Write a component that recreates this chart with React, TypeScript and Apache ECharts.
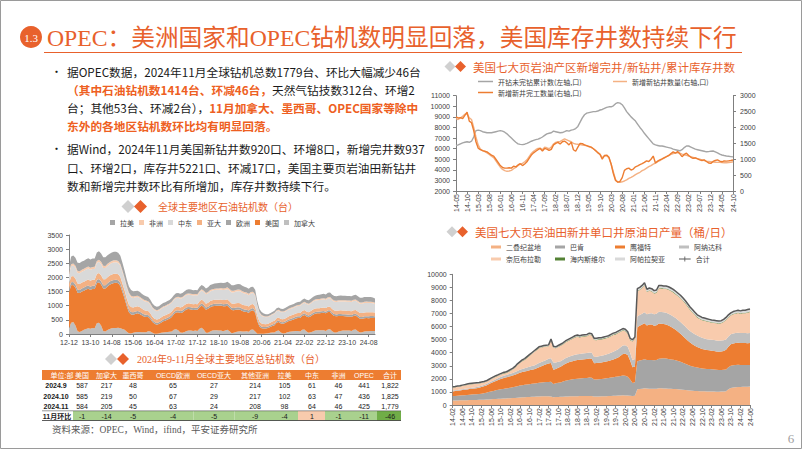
import React, { useEffect, useRef } from "react";
import * as echarts from "echarts";

const FONT = "'Noto Sans CJK SC', 'Noto Sans', sans-serif";
const SERIF = "'Liberation Serif', 'Noto Sans CJK SC', serif";
const NUM = "'Liberation Sans', 'Noto Sans CJK SC', sans-serif";

function monthLabels(y0: number, m0: number, n: number): string[] {
  const out: string[] = [];
  for (let i = 0; i < n; i++) {
    const t = y0 * 12 + (m0 - 1) + i;
    const y = Math.floor(t / 12) % 100;
    const m = (t % 12) + 1;
    out.push(String(y).padStart(2, "0") + "-" + String(m).padStart(2, "0"));
  }
  return out;
}

// ---------- Left chart: 全球主要地区石油钻机数 (2012-12 .. 2024-11) ----------
const rigCats = monthLabels(2012, 12, 144);
const rigCanada = [200,
  400,420,300,100,70,110,150,180,200,190,210,200,
  380,400,300,110,90,140,180,200,210,210,220,200,
  180,150,80,30,20,40,60,70,70,60,60,60,
  100,90,40,10,10,20,40,50,60,70,80,90,
  150,170,130,50,40,70,110,120,120,110,120,110,
  190,220,150,40,40,90,120,130,130,120,120,100,
  120,150,100,30,40,70,90,100,90,90,100,80,
  150,160,90,10,5,5,10,15,30,40,50,50,
  110,120,50,20,30,60,80,90,100,110,110,90,
  150,160,90,40,60,90,120,130,130,130,130,110,
  160,170,100,50,50,90,110,120,120,120,120,110,
  150,160,100,50,60,90,100,100,105,110,110];
const rigUS = [1280,
  1320,1310,1340,1360,1380,1390,1380,1390,1400,1370,1380,1390,
  1410,1430,1450,1500,1520,1540,1560,1580,1590,1600,1570,1500,
  1300,1100,900,740,670,640,650,660,640,600,560,540,
  500,440,380,350,320,330,360,400,410,440,460,510,
  550,590,640,690,720,750,765,765,750,740,740,745,
  760,790,800,820,850,860,860,860,865,875,885,880,
  860,850,830,820,800,790,780,760,720,700,680,670,
  670,680,660,440,260,200,185,180,180,205,230,260,
  290,305,320,340,355,370,385,400,415,440,460,480,
  490,510,530,550,570,590,600,600,600,610,625,620,
  615,605,590,590,575,550,530,515,510,500,500,500,
  490,490,495,490,480,470,462,460,462,460,455];
const rigEurope = [105,
  108,110,112,110,108,110,112,115,113,110,112,114,
  115,116,114,112,110,112,114,115,113,112,110,108,
  104,100,97,95,92,90,88,86,84,82,80,78,
  72,68,64,60,60,62,63,64,65,66,67,68,
  68,69,70,70,71,72,70,71,72,70,70,70,
  72,73,74,75,75,76,75,76,77,76,75,76,
  78,79,80,80,81,80,80,81,80,79,78,77,
  76,75,74,68,60,55,54,53,54,55,56,55,
  54,55,55,56,55,55,56,57,58,58,59,60,
  60,60,61,60,61,62,60,61,62,61,60,60,
  61,62,63,64,64,65,65,65,66,65,64,65,
  65,66,66,65,64,65,66,65,65,67,63];
const rigAsiaPac = [200,
  205,208,210,212,210,208,206,210,212,214,212,210,
  212,214,215,216,212,210,210,212,214,212,210,205,
  195,185,178,172,170,170,168,166,162,158,152,148,
  140,134,128,122,120,120,122,124,125,126,128,128,
  128,129,130,131,130,130,128,129,130,131,130,130,
  132,134,135,136,138,140,140,141,142,140,141,142,
  144,146,148,150,150,151,150,150,148,147,146,145,
  144,142,140,128,115,110,105,100,100,102,104,105,
  106,107,108,109,110,110,111,112,112,113,114,115,
  115,116,117,118,119,120,120,121,122,123,124,125,
  126,127,128,129,130,130,131,132,132,131,132,133,
  134,135,136,137,138,139,140,140,138,135,130];
const rigMidEast = [330,
  370,375,380,378,382,385,384,386,388,385,384,386,
  390,392,395,398,400,402,400,401,403,400,398,396,
  392,385,375,365,350,335,330,325,320,318,315,312,
  310,306,302,300,298,298,300,302,302,304,305,306,
  306,307,308,309,308,310,309,310,311,310,310,310,
  315,320,325,330,335,340,342,345,347,350,352,355,
  360,370,380,390,400,410,415,420,420,415,410,400,
  395,390,385,340,300,270,255,245,240,238,240,242,
  240,238,240,240,240,242,244,245,246,247,248,250,
  250,255,260,265,270,275,280,283,285,287,289,290,
  295,300,305,308,310,312,315,316,318,320,320,322,
  325,327,328,329,330,331,332,330,325,315,300];
const rigAfrica = [65,
  66,68,70,70,71,72,72,70,71,72,73,74,
  74,75,76,75,75,76,75,75,74,73,72,70,
  66,62,58,55,52,50,48,46,45,44,43,42,
  40,38,36,35,34,34,35,36,36,37,37,38,
  38,38,39,39,40,40,40,40,41,40,40,40,
  42,43,44,45,46,48,48,49,50,50,51,52,
  53,54,55,55,55,55,56,55,54,53,52,51,
  50,50,48,40,32,30,28,26,25,25,26,27,
  28,28,29,30,30,30,31,32,32,33,34,35,
  35,35,36,36,37,38,38,39,39,40,40,40,
  41,42,43,44,44,45,45,45,46,45,45,45,
  45,46,46,46,45,45,46,45,46,47,46];
const rigLatAm = [200,
  270,280,285,288,290,292,290,292,294,296,295,294,
  296,298,300,300,302,302,300,301,300,298,295,290,
  270,250,235,220,205,190,180,175,170,165,160,155,
  145,138,130,125,122,120,120,122,124,126,128,130,
  132,134,136,138,140,142,143,144,145,145,146,145,
  150,155,160,165,170,175,178,182,186,190,192,194,
  196,198,198,197,196,195,195,193,190,186,182,178,
  175,172,168,140,115,110,90,75,70,72,75,80,
  85,88,90,92,95,95,98,100,102,105,108,112,
  115,118,120,125,130,135,138,142,146,150,152,155,
  158,160,162,162,163,162,161,160,160,160,159,158,
  160,161,162,163,164,165,166,166,164,160,150];

// ---------- Top right: 新增完井/新钻井/累计库存井数 (2014-05 .. 2024-10) ----------
const wellCats = monthLabels(2014, 5, 126);
const ducCount = [
  6300,6350,6450,6550,6600,6650,6600,6700,7100,7700,
  7750,7700,7600,7550,7500,7500,7500,7550,7600,7650,
  7700,7650,7550,7400,7200,7000,6800,6600,6450,6400,
  6380,6420,6500,6600,6700,6780,6850,6900,6980,7100,
  7250,7400,7450,7500,7650,7600,7550,7500,7520,7600,
  7700,7650,7750,7800,7900,8100,8500,8900,9200,9350,
  9400,9450,9500,9500,9550,9650,9700,9800,9900,9950,
  9950,10050,10250,10350,10300,10150,9850,9500,9250,9000,
  8800,8600,8300,8000,7750,7450,7200,6950,6700,6450,
  6350,6300,6250,6250,6200,6150,6100,6050,5950,5900,
  5850,5800,5900,6100,6250,6250,6150,6050,5950,5900,
  5850,5800,5750,5700,5720,5760,5780,5700,5600,5480,
  5400,5350,5310,5280,5250,5220];
const newDrilled = [
  2280,2250,2300,2350,2420,2430,2300,2250,2000,1700,
  1450,1320,1270,1240,1200,1150,1100,1050,950,850,
  750,680,640,620,630,650,700,740,800,850,
  870,920,980,1080,1180,1250,1300,1340,1350,1300,
  1380,1360,1330,1380,1480,1530,1550,1560,1600,1640,
  1610,1580,1550,1500,1480,1470,1460,1450,1440,1420,
  1400,1370,1330,1280,1220,1160,1050,1100,1110,1050,
  850,600,360,280,270,290,315,350,395,430,
  470,515,555,590,640,675,720,765,800,845,
  880,925,955,1000,1035,1085,1115,1150,1180,1200,
  1210,1190,1160,1140,1120,1100,1080,1060,1040,1020,
  1000,980,960,940,930,920,910,905,900,900,
  895,890,890,895,900,920];
const newCompleted = [
  2330,2300,2310,2280,2380,2480,2200,2150,1900,1550,
  1350,1300,1270,1250,1230,1180,1130,1100,1000,900,
  800,740,720,720,730,720,780,760,820,860,
  800,850,920,1030,1130,1200,1250,1300,1340,1260,
  1340,1320,1280,1310,1450,1500,1530,1480,1550,1570,
  1520,1450,1540,1300,1250,1380,1500,1490,1450,1430,
  1400,1380,1330,1270,1200,1150,1000,1120,1130,1060,
  850,550,330,280,300,420,650,700,720,660,
  690,760,790,830,860,900,950,930,1000,1100,
  880,940,980,1010,1050,1080,1120,1180,1230,1190,
  1240,1170,1080,1150,1190,1120,1060,1030,1040,1010,
  980,960,980,930,880,870,930,960,980,940,
  920,950,940,950,960,975];

// ---------- Bottom right: 新井单口井原油日产量 (2014-02 .. 2024-06) ----------
const prodCats = monthLabels(2014, 2, 125);
const prodPermian = [
  340,345,350,355,360,365,370,375,380,385,390,
  395,400,410,420,430,440,450,460,470,480,490,500,
  510,520,530,545,560,575,590,600,610,620,630,640,
  650,655,660,665,670,660,650,600,610,620,630,640,
  650,655,660,665,670,675,680,685,690,690,695,690,
  650,650,655,660,665,670,680,690,700,710,720,730,
  740,730,720,700,680,700,1200,1230,1250,1280,1260,1250,
  1250,1240,1250,1280,1280,1270,1260,1250,1240,1230,1220,1200,
  1180,1160,1140,1120,1100,1090,1080,1070,1060,1050,1050,1040,
  1040,1030,1030,1020,1020,1030,1040,1060,1200,1300,1340,1360,
  1380,1380,1390,1400,1400,1410];
const prodBakken = [
  340,350,360,370,380,390,400,410,420,430,440,
  450,470,490,520,560,600,630,660,690,720,740,760,
  780,800,820,850,880,910,930,950,960,970,990,1000,
  1020,1040,1060,1080,1090,1100,1120,1000,1050,1080,1100,1150,
  1200,1240,1280,1300,1320,1340,1350,1360,1370,1380,1400,1390,
  1300,1310,1320,1330,1350,1370,1390,1410,1430,1450,1470,1490,
  1520,1500,1450,1250,1000,1050,2150,2180,2200,2220,2180,2200,
  2200,2180,2200,2260,2280,2300,2290,2270,2250,2230,2200,2160,
  2120,2070,2020,1960,1900,1850,1820,1790,1770,1750,1730,1720,
  1710,1700,1690,1680,1660,1650,1650,1660,1680,1700,1700,1700,
  1700,1690,1680,1670,1660,1660];
const prodEagleFord = [
  360,370,380,390,400,410,420,430,440,450,460,
  480,500,530,560,600,640,680,720,760,790,820,840,
  860,880,900,920,950,980,1000,1020,1040,1060,1080,1100,
  1150,1200,1250,1300,1350,1420,1450,1100,1100,1150,1200,1250,
  1300,1330,1360,1390,1410,1420,1430,1440,1440,1450,1460,1450,
  1250,1250,1260,1270,1280,1290,1300,1320,1350,1400,1450,1550,
  1650,1700,1650,1450,1200,1200,2600,2650,2700,2750,2650,2700,
  2700,2650,2650,2700,2650,2620,2600,2560,2500,2420,2340,2250,
  2150,2050,1950,1850,1780,1700,1640,1580,1530,1490,1460,1440,
  1430,1420,1410,1400,1400,1420,1450,1500,1580,1650,1670,1680,
  1680,1680,1670,1670,1670,1670];
const prodAnadarko = [
  60,60,65,65,70,70,75,75,80,80,85,
  90,95,100,105,110,115,120,130,140,150,160,170,
  180,190,200,210,220,230,240,250,260,270,280,290,
  300,310,320,330,340,350,360,550,500,450,420,420,
  420,430,430,440,440,445,450,450,455,460,465,470,
  480,490,500,510,520,530,550,570,590,610,630,640,
  650,650,640,600,550,560,820,830,840,850,850,860,
  870,880,890,900,900,900,900,900,900,900,900,900,
  900,900,900,890,890,890,880,870,860,850,850,840,
  840,840,840,840,840,830,820,800,780,770,760,760,
  760,760,760,760,760,760];
const prodNiobrara = [
  245,240,237,242,249,264,271,286,274,268,256,
  236,223,198,170,175,177,192,199,179,176,186,163,
  183,220,260,332,447,509,594,631,731,828,918,1016,
  1076,1138,1103,1065,1020,957,1357,1135,1074,1132,1182,1169,
  1209,1222,1247,1279,1334,1342,1261,1284,1294,1286,1346,1314,
  1284,1261,1276,1239,1243,1246,1236,1263,1283,1231,1230,1188,
  1138,1068,991,955,1432,1552,1935,1909,1954,2038,1698,1723,
  1663,1581,1587,1784,1812,1780,1818,1837,1825,1833,1804,1804,
  1814,1787,1759,1701,1604,1546,1458,1371,1363,1345,1348,1350,
  1322,1304,1307,1309,1301,1324,1394,1482,1460,1425,1470,1485,
  1510,1465,1520,1520,1575,1610];
const prodHaynesville = [
  15,15,16,16,17,17,18,18,18,19,19,
  19,20,20,21,21,22,22,23,23,24,24,25,
  25,26,26,27,27,28,28,29,29,30,30,30,
  30,31,31,32,32,33,33,33,34,34,34,35,
  35,35,35,36,36,36,37,37,37,38,38,38,
  38,39,39,39,40,40,40,41,41,41,42,42,
  42,42,41,40,38,38,45,46,46,47,47,47,
  47,47,48,48,48,48,48,47,47,47,46,46,
  46,45,45,45,44,44,44,43,43,43,42,42,
  42,42,41,41,41,40,40,40,40,40,40,40,
  40,40,40,40,40,40];
const prodAppalachia = [
  40,40,42,42,44,44,46,46,48,48,50,
  50,52,52,54,54,56,56,58,58,60,60,62,
  62,64,64,66,66,68,68,70,70,72,72,74,
  74,76,76,78,78,80,80,82,82,84,84,86,
  86,88,88,90,90,92,92,94,94,96,96,98,
  98,100,100,102,102,104,104,106,106,108,108,110,
  110,110,108,105,100,100,150,155,160,165,165,170,
  170,172,175,178,180,182,184,186,188,190,190,190,
  190,188,186,184,182,180,178,176,174,172,170,168,
  166,164,162,160,158,156,156,158,160,165,170,175,
  180,185,190,190,195,200];

// ---------- Table ----------
const tableHeader = ["单位:部","美国","加拿大","墨西哥","OECD欧洲","OECD亚大","其他亚洲","拉美","中东","非洲","OPEC","合计"];
const tableRowLabels = ["2024.9","2024.10","2024.11"];
const rows2024 = [
  [587,217,48,65,27,214,105,61,46,441,1822],
  [585,219,50,67,29,217,102,63,47,436,1825],
  [584,205,45,63,24,208,98,64,46,425,1779],
];
const momLabel = "11月环比";
const momChange = [-1,-14,-5,-4,-5,-9,-4,1,-1,-11,-46];

const C_ORANGE = "#ED7D31";
const C_LORANGE = "#F4B183";
const C_PEACH = "#F8CBAD";
const C_GRAY = "#A5A5A5";
const C_LGRAY = "#BFBFBF";
const C_VLGRAY = "#D9D9D9";
const C_GREEN = "#548235";
const T_ORANGE = "#E8612C";
const AX = "#7F7F7F";
const LAB = "#404040";

function fmt(n: number): string {
  return n.toLocaleString("en-US");
}

function buildOption(): any {
  const els: any[] = [];
  const text = (x: number, y: number, t: string, o: any = {}) => {
    els.push({
      type: "text", x, y, silent: true,
      style: {
        text: t, fill: o.fill ?? "#1a1a1a", fontSize: o.size ?? 11,
        fontFamily: o.family ?? FONT, fontWeight: o.weight ?? "normal",
        textAlign: o.align ?? "left", textVerticalAlign: "middle", rich: o.rich,
      },
    });
  };
  const diamond = (cx: number, cy: number, r: number, color: string) => {
    els.push({ type: "polygon", silent: true, shape: { points: [[cx, cy - r], [cx + r, cy], [cx, cy + r], [cx - r, cy]] }, style: { fill: color } });
  };
  const rect = (x: number, y: number, w: number, h: number, fill: string) => {
    els.push({ type: "rect", silent: true, shape: { x, y, width: w, height: h }, style: { fill } });
  };

  // frame
  els.push({ type: "rect", silent: true, shape: { x: 0.5, y: 0.5, width: 801, height: 448 }, style: { fill: "none", stroke: "#9a9a9a", lineWidth: 1 } });

  // main title
  els.push({ type: "circle", silent: true, shape: { cx: 31, cy: 37, r: 11 }, style: { fill: T_ORANGE } });
  text(31, 37.5, "1.3", { fill: "#fff", size: 11, align: "center", family: SERIF });
  text(47, 38, "OPEC：美洲国家和OPEC钻机数明显回落，美国库存井数持续下行", { fill: T_ORANGE, size: 23.7, family: SERIF });
  els.push({ type: "line", silent: true, shape: { x1: 44, y1: 52.5, x2: 742, y2: 52.5 }, style: { stroke: T_ORANGE, lineWidth: 1.2 } });

  // bullets
  const BS = 11.7;
  const rich = {
    o: { fill: "#EE5F22", fontWeight: "bold", fontSize: BS, fontFamily: FONT },
    k: { fill: "#1a1a1a", fontSize: BS, fontFamily: FONT },
  };
  text(51, 71, "•", { size: 11 });
  text(67, 71, "据OPEC数据，2024年11月全球钻机总数1779台、环比大幅减少46台", { size: BS });
  text(67, 89, "{o|（其中石油钻机数1414台、环减46台，}{k|天然气钻技数312台、环增2}", { size: BS, rich });
  text(67, 107, "{k|台；其他53台、环减2台），}{o|11月加拿大、墨西哥、OPEC国家等除中}", { size: BS, rich });
  text(67, 125, "{o|东外的各地区钻机数环比均有明显回落。}", { size: BS, rich });
  text(51, 148, "•", { size: 11 });
  text(67, 148, "据Wind，2024年11月美国新钻井数920口、环增8口，新增完井数937", { size: BS });
  text(67, 167, "口、环增2口，库存井5221口、环减17口，美国主要页岩油田新钻井", { size: BS });
  text(67, 185, "数和新增完井数环比有所增加，库存井数持续下行。", { size: BS });

  // chart titles
  diamond(128, 206.5, 6.5, "#D0D0D0");
  diamond(140.5, 206.5, 6.5, T_ORANGE);
  text(158, 206.5, "全球主要地区石油钻机数（台）", { fill: T_ORANGE, size: 10 });

  diamond(450, 66.5, 5.5, "#D0D0D0");
  diamond(460.5, 66.5, 5.5, T_ORANGE);
  text(473, 66.5, "美国七大页岩油产区新增完井/新钻井/累计库存井数", { fill: T_ORANGE, size: 11.5 });

  diamond(452, 231.7, 5.5, "#D0D0D0");
  diamond(462.5, 231.7, 5.5, T_ORANGE);
  text(475, 231.7, "美国七大页岩油田新井单口井原油日产量（桶/日）", { fill: T_ORANGE, size: 11.5 });

  diamond(111, 359, 6, "#D0D0D0");
  diamond(123, 359, 6, T_ORANGE);
  text(137, 359, "2024年9-11月全球主要地区总钻机数（台）", { fill: T_ORANGE, size: 10, family: SERIF });

  // table
  const colX = [56, 82, 106.5, 133, 173, 214, 255, 284.5, 312, 338.5, 364, 390];
  const bounds = [42, 73, 94, 120, 153, 193.5, 234.5, 270, 298, 325, 351, 377, 401];
  rect(42, 370, 359, 10, C_ORANGE);
  tableHeader.forEach((h, i) => text(i === 0 ? 62 : colX[i], 375, h, { fill: "#fff", size: 7, align: "center", family: NUM }));
  const rowY = [385.5, 396, 406.5];
  rows2024.forEach((r, ri) => {
    text(colX[0], rowY[ri], tableRowLabels[ri], { size: 7, weight: "bold", align: "center", family: NUM });
    r.forEach((v, ci) => text(colX[ci + 1], rowY[ri], fmt(v), { size: 7, align: "center", family: NUM }));
  });
  momChange.forEach((v, ci) => {
    const fill = ci === 7 ? C_PEACH : ci === 10 ? "#70AD47" : "#A9D18E";
    rect(bounds[ci + 1], 411, bounds[ci + 2] - bounds[ci + 1], 9.5, fill);
  });
  text(57, 416, momLabel, { size: 7, weight: "bold", align: "center", family: NUM });
  momChange.forEach((v, ci) => text(colX[ci + 1], 416, String(v), { size: 7, align: "center", family: NUM }));
  els.push({ type: "line", silent: true, shape: { x1: 42, y1: 420.5, x2: 401, y2: 420.5 }, style: { stroke: "#333", lineWidth: 0.8 } });
  els.push({ type: "line", silent: true, shape: { x1: 42, y1: 410.8, x2: 401, y2: 410.8 }, style: { stroke: "#333", lineWidth: 0.5 } });

  text(52, 429.5, "资料来源：OPEC，Wind，ifind，平安证券研究所", { fill: "#595959", size: 9.5, family: SERIF });
  text(791, 438, "6", { fill: "#A0A0A0", size: 13, family: SERIF, align: "center" });

  const area = (name: string, data: number[], color: string, stack: string, xi: number, yi: number) => ({
    name, type: "line", stack, xAxisIndex: xi, yAxisIndex: yi, data, symbol: "none", smooth: false,
    lineStyle: { width: 0, color }, itemStyle: { color }, areaStyle: { color, opacity: 1 },
  });
  const line = (name: string, data: number[], color: string, xi: number, yi: number, w = 1.4) => ({
    name, type: "line", xAxisIndex: xi, yAxisIndex: yi, data, symbol: "none",
    lineStyle: { width: w, color }, itemStyle: { color },
  });

  const prodTotal = prodPermian.map((v, i) => v + prodBakken[i] + prodEagleFord[i] + prodAnadarko[i] + prodNiobrara[i] + prodHaynesville[i] + prodAppalachia[i]);

  const plain = (v: number) => String(v);
  const axLabel = { fontSize: 7, color: LAB, fontFamily: NUM };
  const yLabel = { ...axLabel, formatter: plain };
  const legText = { fontSize: 7, color: LAB, fontFamily: FONT };
  const leg = (data: string[], left: number, top: number, extra: any = {}) => ({
    data, left, top, padding: 0, selectedMode: false, itemGap: 5, textStyle: legText, ...extra,
  });

  return {
    animation: false,
    backgroundColor: "#ffffff",
    textStyle: { fontFamily: FONT },
    grid: [
      { left: 69, top: 235, width: 306, height: 99 },
      { left: 456, top: 95.7, width: 277, height: 95.3 },
      { left: 452.7, top: 274.3, width: 297.3, height: 130.7 },
    ],
    xAxis: [
      { type: "category", gridIndex: 0, data: rigCats, boundaryGap: false,
        axisLine: { lineStyle: { color: AX } }, axisTick: { show: true, interval: 9, length: 3, lineStyle: { color: AX } },
        axisLabel: { ...axLabel, interval: 9, margin: 5 }, splitLine: { show: false } },
      { type: "category", gridIndex: 1, data: wellCats, boundaryGap: false,
        axisLine: { lineStyle: { color: AX } }, axisTick: { show: true, interval: 4, length: 3, lineStyle: { color: AX } },
        axisLabel: { ...axLabel, interval: 4, rotate: 90, margin: 3 }, splitLine: { show: false } },
      { type: "category", gridIndex: 2, data: prodCats, boundaryGap: false,
        axisLine: { lineStyle: { color: AX } }, axisTick: { show: true, interval: 3, length: 3, lineStyle: { color: AX } },
        axisLabel: { ...axLabel, interval: 3, rotate: 90, margin: 3 }, splitLine: { show: false } },
    ],
    yAxis: [
      { type: "value", gridIndex: 0, min: 0, max: 3500, interval: 500,
        axisLine: { show: true, lineStyle: { color: AX } }, axisTick: { show: true, length: 3, lineStyle: { color: AX } },
        axisLabel: { ...yLabel, margin: 6 }, splitLine: { show: false } },
      { type: "value", gridIndex: 1, min: 2000, max: 11000, interval: 1000, position: "left",
        axisLine: { show: true, lineStyle: { color: AX } }, axisTick: { show: true, length: 3, lineStyle: { color: AX } },
        axisLabel: { ...yLabel, margin: 6 }, splitLine: { show: false } },
      { type: "value", gridIndex: 1, min: 0, max: 3000, interval: 500, position: "right",
        axisLine: { show: true, lineStyle: { color: AX } }, axisTick: { show: true, length: 3, lineStyle: { color: AX } },
        axisLabel: { ...yLabel, margin: 7 }, splitLine: { show: false } },
      { type: "value", gridIndex: 2, min: 0, max: 10000, interval: 1000,
        axisLine: { show: true, lineStyle: { color: AX } }, axisTick: { show: true, length: 3, lineStyle: { color: AX } },
        axisLabel: { ...yLabel, margin: 6 }, splitLine: { show: false } },
    ],
    legend: [
      leg(["拉美", "非洲", "中东", "亚大", "欧洲", "美国", "加拿大"], 110, 219, { icon: "rect", itemWidth: 5, itemHeight: 5, itemGap: 5 }),
      leg(["开钻未完钻累计数(左轴,口)"], 478, 78, { icon: "rect", itemWidth: 15, itemHeight: 1.5 }),
      leg(["新增新钻井数量(右轴,口)"], 613, 78, { icon: "rect", itemWidth: 14, itemHeight: 1.5 }),
      leg(["新增新井完工数量(右轴,口)"], 478, 89, { icon: "rect", itemWidth: 15, itemHeight: 1.5 }),
      leg(["二叠纪盆地"], 491, 243.5, { icon: "rect", itemWidth: 10, itemHeight: 3 }),
      leg(["巴肯"], 555, 243.5, { icon: "rect", itemWidth: 10, itemHeight: 3 }),
      leg(["鹰福特"], 615, 243.5, { icon: "rect", itemWidth: 10, itemHeight: 3 }),
      leg(["阿纳达科"], 679, 243.5, { icon: "rect", itemWidth: 10, itemHeight: 3 }),
      leg(["奈厄布拉勒"], 491, 255.5, { icon: "rect", itemWidth: 10, itemHeight: 3 }),
      leg(["海内斯维尔"], 555, 255.5, { icon: "rect", itemWidth: 10, itemHeight: 3 }),
      leg(["阿帕拉契亚"], 615, 255.5, { icon: "rect", itemWidth: 10, itemHeight: 3 }),
      leg(["合计"], 679, 255.5, { icon: "path://M0,2.5L14,2.5L14,3.5L0,3.5Z M6.5,0L7.5,0L7.5,6L6.5,6Z", itemWidth: 12, itemHeight: 5 }),
    ],
    series: [
      area("加拿大", rigCanada, C_LGRAY, "L", 0, 0),
      area("美国", rigUS, C_ORANGE, "L", 0, 0),
      area("欧洲", rigEurope, C_GRAY, "L", 0, 0),
      area("亚大", rigAsiaPac, C_LORANGE, "L", 0, 0),
      area("中东", rigMidEast, C_VLGRAY, "L", 0, 0),
      area("非洲", rigAfrica, C_PEACH, "L", 0, 0),
      area("拉美", rigLatAm, C_GRAY, "L", 0, 0),

      line("开钻未完钻累计数(左轴,口)", ducCount, C_GRAY, 1, 1),
      line("新增新钻井数量(右轴,口)", newDrilled, C_LORANGE, 1, 2),
      line("新增新井完工数量(右轴,口)", newCompleted, C_ORANGE, 1, 2),

      area("二叠纪盆地", prodPermian, C_LORANGE, "R", 2, 3),
      area("巴肯", prodBakken, C_GRAY, "R", 2, 3),
      area("鹰福特", prodEagleFord, C_ORANGE, "R", 2, 3),
      area("阿纳达科", prodAnadarko, C_LGRAY, "R", 2, 3),
      area("奈厄布拉勒", prodNiobrara, C_PEACH, "R", 2, 3),
      area("海内斯维尔", prodHaynesville, C_GREEN, "R", 2, 3),
      area("阿帕拉契亚", prodAppalachia, C_VLGRAY, "R", 2, 3),
      line("合计", prodTotal, "#595959", 2, 3, 1.5),
    ],
    graphic: { elements: els },
  };
}

export default function App() {
  const ref = useRef<HTMLDivElement>(null);
  useEffect(() => {
    if (!ref.current) return;
    const chart = echarts.init(ref.current, null, { renderer: "svg" });
    chart.setOption(buildOption());
    return () => chart.dispose();
  }, []);
  return <div ref={ref} style={{ position: "fixed", left: 0, top: 0, width: 802, height: 451, background: "#fff" }} />;
}
